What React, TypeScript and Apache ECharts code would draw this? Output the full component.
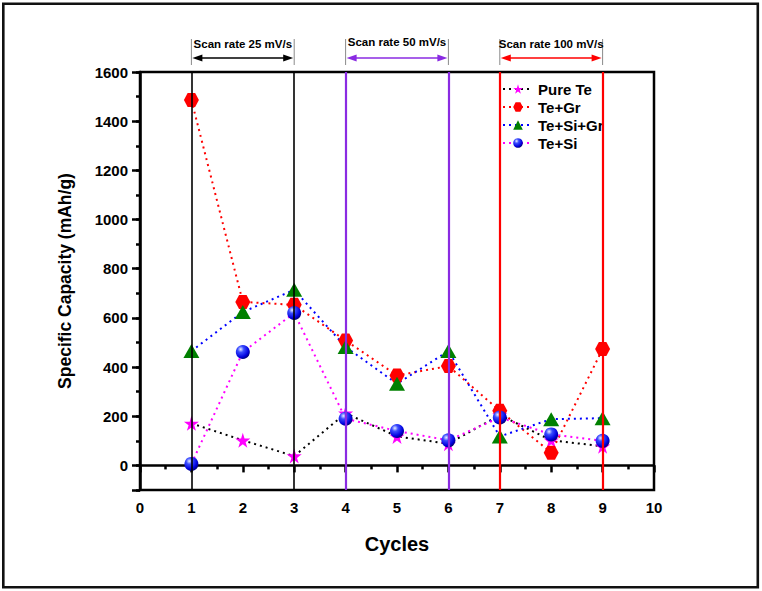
import React, { useEffect, useRef } from "react";
import * as echarts from "echarts";

const cycles = [1, 2, 3, 4, 5, 6, 7, 8, 9];
const pureTe = [171, 102, 38, 212, 118, 88, 205, 102, 78];
const teGr = [1486, 665, 653, 508, 366, 404, 222, 52, 473];
const teSiGr = [465, 624, 714, 482, 332, 465, 118, 188, 192];
const teSi = [6, 461, 620, 190, 140, 102, 195, 126, 100];
const seriesNames = ["Pure Te", "Te+Gr", "Te+Si+Gr", "Te+Si"];

const scanLabels = ["Scan rate 25 mV/s", "Scan rate 50 mV/s", "Scan rate 100 mV/s"];
const scanStart = [1, 4, 7];
const scanEnd = [3, 6, 9];
const scanColors = ["#000000", "#8A2BE2", "#FF0000"];

const FONT = "Liberation Sans, Arial, sans-serif";
const STAR = "path://M50,0 L61,35 L98,35 L68,57 L79,91 L50,70 L21,91 L32,57 L2,35 L39,35 Z";
const HEX = "path://M25,0 L75,0 L100,50 L75,100 L25,100 L0,50 Z";

const pairs = (vals: number[]) => cycles.map((c, i) => [c, vals[i]]);

export default function App() {
  const ref = useRef<HTMLDivElement>(null);
  useEffect(() => {
    document.body.style.margin = "0";
    const chart = echarts.init(ref.current!, null, { renderer: "svg" });
    const sphere = new echarts.graphic.RadialGradient(0.35, 0.3, 0.75, [
      { offset: 0, color: "#e8eeff" },
      { offset: 0.3, color: "#3a4cff" },
      { offset: 0.75, color: "#0000dd" },
      { offset: 1, color: "#00006a" },
    ]);
    const dash = [2, 4];
    const markLineData = [
      ...scanStart.map((s, i) => ({ xAxis: s, lineStyle: { color: scanColors[i], width: i === 0 ? 1.6 : 2.2, type: "solid" } })),
      ...scanEnd.map((s, i) => ({ xAxis: s, lineStyle: { color: scanColors[i], width: i === 0 ? 1.6 : 2.2, type: "solid" } })),
    ];
    chart.setOption({
      animation: false,
      backgroundColor: "#ffffff",
      textStyle: { fontFamily: FONT },
      grid: { left: 140, right: 108, top: 72, bottom: 101, show: true, borderColor: "#000", borderWidth: 2.5 },
      legend: {
        data: seriesNames,
        orient: "vertical",
        left: 502,
        top: 80,
        padding: 0,
        itemWidth: 30,
        itemHeight: 12,
        itemGap: 0,
        textStyle: { fontFamily: FONT, fontWeight: "bold", fontSize: 15, color: "#000", lineHeight: 18 },
      },
      xAxis: {
        type: "value",
        min: 0,
        max: 10,
        interval: 1,
        name: "Cycles",
        nameLocation: "middle",
        nameGap: 44,
        nameTextStyle: { fontFamily: FONT, fontWeight: "bold", fontSize: 20, color: "#000" },
        axisLine: { show: true, lineStyle: { color: "#000", width: 2.5 } },
        axisTick: { show: true, length: 7, lineStyle: { color: "#000", width: 2.5 } },
        minorTick: { show: true, splitNumber: 2, length: 4, lineStyle: { color: "#000", width: 2.5 } },
        axisLabel: { fontFamily: FONT, fontWeight: "bold", fontSize: 15, color: "#000", margin: 10 },
        splitLine: { show: false },
      },
      yAxis: [
        {
          type: "value",
          min: -100,
          max: 1600,
          minInterval: 200,
          maxInterval: 200,
          splitNumber: 8,
          name: "Specific Capacity (mAh/g)",
          nameLocation: "middle",
          nameGap: 66,
          nameTextStyle: { fontFamily: FONT, fontWeight: "bold", fontSize: 17.5, color: "#000" },
          axisLine: { show: true, lineStyle: { color: "#000", width: 2.5 } },
          axisTick: { show: true, length: 8, lineStyle: { color: "#000", width: 2.5 } },
          axisLabel: {
            fontFamily: FONT,
            fontWeight: "bold",
            fontSize: 15,
            color: "#000",
            margin: 12,
            formatter: (v: number) => (v < 0 ? "" : String(v)),
          },
          splitLine: { show: false },
        },
        {
          type: "value",
          min: -100,
          max: 1600,
          interval: 100,
          position: "left",
          axisLine: { show: false },
          axisTick: { show: true, length: 4, lineStyle: { color: "#000", width: 2.5 } },
          axisLabel: { show: false },
          splitLine: { show: false },
        },
      ],
      series: [
        {
          name: "__vlines",
          type: "line",
          data: [],
          silent: true,
          z: 1,
          markLine: { silent: true, symbol: ["none", "none"], label: { show: false }, data: markLineData },
        },
        {
          name: seriesNames[0],
          type: "line",
          data: pairs(pureTe),
          symbol: STAR,
          symbolSize: 15,
          itemStyle: { color: "#FF00FF" },
          lineStyle: { color: "#000000", width: 2, type: dash },
          z: 3,
        },
        {
          name: seriesNames[1],
          type: "line",
          data: pairs(teGr),
          symbol: HEX,
          symbolSize: [15, 14],
          itemStyle: { color: "#FF0000" },
          lineStyle: { color: "#FF0000", width: 2, type: dash },
          z: 3,
        },
        {
          name: seriesNames[2],
          type: "line",
          data: pairs(teSiGr),
          symbol: "triangle",
          symbolSize: [16, 14],
          itemStyle: { color: "#008000" },
          lineStyle: { color: "#0000FF", width: 2, type: dash },
          z: 3,
        },
        {
          name: seriesNames[3],
          type: "line",
          data: pairs(teSi),
          symbol: "circle",
          symbolSize: 14,
          itemStyle: { color: sphere },
          lineStyle: { color: "#FF00FF", width: 2, type: dash },
          z: 3,
        },
      ],
    });

    const px = (v: number) => chart.convertToPixel({ xAxisIndex: 0 }, v) as number;
    const graphics: any[] = [
      {
        type: "rect",
        shape: { x: 3.3, y: 3.7, width: 754.5, height: 583.6 },
        style: { fill: "none", stroke: "#111", lineWidth: 2.6 },
        silent: true,
      },
    ];
    const arrowY = 58;
    scanLabels.forEach((label, i) => {
      const x1 = px(scanStart[i]);
      const x2 = px(scanEnd[i]);
      const c = scanColors[i];
      graphics.push(
        { type: "line", shape: { x1, y1: 39, x2: x1, y2: 65 }, style: { stroke: "#8a8a8a", lineWidth: 1 }, silent: true },
        { type: "line", shape: { x1: x2, y1: 39, x2, y2: 65 }, style: { stroke: "#8a8a8a", lineWidth: 1 }, silent: true },
        { type: "line", shape: { x1: x1 + 6, y1: arrowY, x2: x2 - 6, y2: arrowY }, style: { stroke: c, lineWidth: 1.6 }, silent: true },
        {
          type: "polygon",
          shape: { points: [[x1 + 1, arrowY], [x1 + 11, arrowY - 3.6], [x1 + 11, arrowY + 3.6]] },
          style: { fill: c },
          silent: true,
        },
        {
          type: "polygon",
          shape: { points: [[x2 - 1, arrowY], [x2 - 11, arrowY - 3.6], [x2 - 11, arrowY + 3.6]] },
          style: { fill: c },
          silent: true,
        },
        {
          type: "text",
          x: (x1 + x2) / 2,
          y: i === 1 ? 42 : 44,
          style: {
            text: label,
            fill: "#000",
            font: `bold 11.5px ${FONT}`,
            align: "center",
            verticalAlign: "middle",
          },
          silent: true,
        }
      );
    });
    chart.setOption({ graphic: graphics });
    return () => chart.dispose();
  }, []);
  return <div ref={ref} style={{ position: "absolute", left: 0, top: 0, width: 762, height: 591 }} />;
}
